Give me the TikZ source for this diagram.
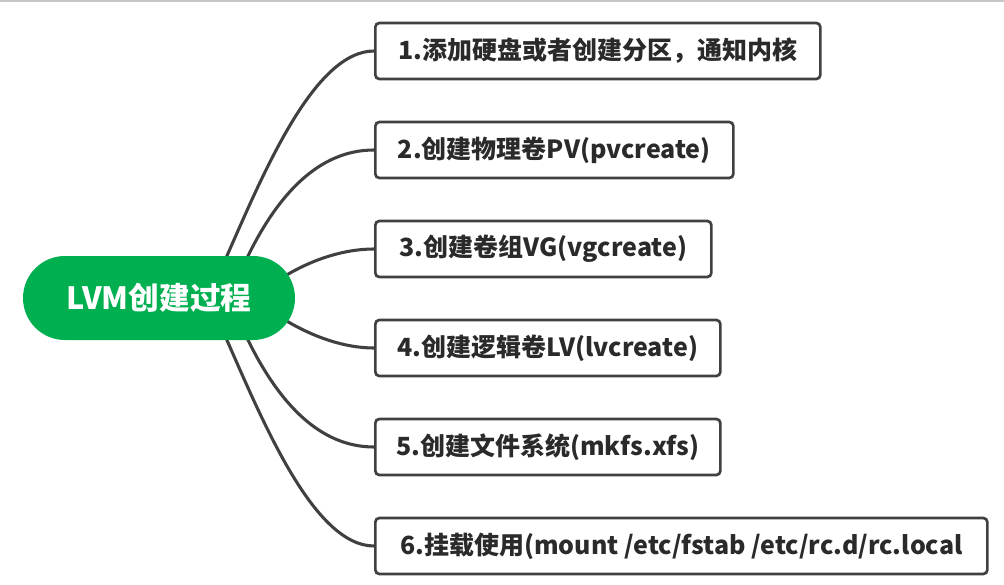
\documentclass[tikz,border=0pt]{standalone}
\usepackage{fontspec}
\setmainfont{Noto Sans CJK SC}
\usetikzlibrary{backgrounds,shapes.misc}
\definecolor{grn}{HTML}{00B050}
\definecolor{ln}{HTML}{404040}
\definecolor{txt}{HTML}{2A2A2A}
\begin{document}
\begin{tikzpicture}[x=0.75pt,y=-0.75pt,
  stepbox/.style={draw=ln, line width=2pt, rounded corners=3pt, fill=white,
    minimum height=42pt, anchor=west, inner xsep=0pt,
    font=\bfseries\fontsize{18.75}{22}\selectfont, text=txt},
  rootbox/.style={fill=grn, rounded rectangle, minimum width=204pt,
    minimum height=63pt, text=white, inner sep=0pt,
    font=\bfseries\fontsize{23}{26}\selectfont},
  conn/.style={draw=ln, line width=2.3pt}]
\useasboundingbox (0,0) rectangle (1004,585);
\draw[black!22, line width=1.2pt] (0,1) -- (1004,1);
\node[rootbox] (root) at (159,298) {LVM创建过程};
\node[stepbox, minimum width=333.75pt] (b1) at (374,51) {1.添加硬盘或者创建分区，通知内核};
\node[stepbox, minimum width=268.5pt] (b2) at (374,150) {2.创建物理卷PV(pvcreate)};
\node[stepbox, minimum width=252pt] (b3) at (374,249) {3.创建卷组VG(vgcreate)};
\node[stepbox, minimum width=258.75pt] (b4) at (374,348) {4.创建逻辑卷LV(lvcreate)};
\node[stepbox, minimum width=258.75pt] (b5) at (374,447) {5.创建文件系统(mkfs.xfs)};
\node[stepbox, minimum width=459pt] (b6) at (374,546) {6.挂载使用(mount /etc/fstab /etc/rc.d/rc.local};
\begin{pgfonlayer}{background}
\draw[conn] ([shift={(67,-40)}]root.center) .. controls +(37,-84) and +(-60,0) .. (b1.west);
\draw[conn] ([shift={(88,-40)}]root.center) .. controls +(31,-64) and +(-55,0) .. (b2.west);
\draw[conn] ([shift={(126,-22)}]root.center) .. controls +(27.5,-16.6) and +(-30,0) .. (b3.west);
\draw[conn] ([shift={(126,22)}]root.center) .. controls +(27.5,16.6) and +(-30,0) .. (b4.west);
\draw[conn] ([shift={(88,40)}]root.center) .. controls +(31,64) and +(-55,0) .. (b5.west);
\draw[conn] ([shift={(67,40)}]root.center) .. controls +(37,84) and +(-60,0) .. (b6.west);
\end{pgfonlayer}
\end{tikzpicture}
\end{document}
